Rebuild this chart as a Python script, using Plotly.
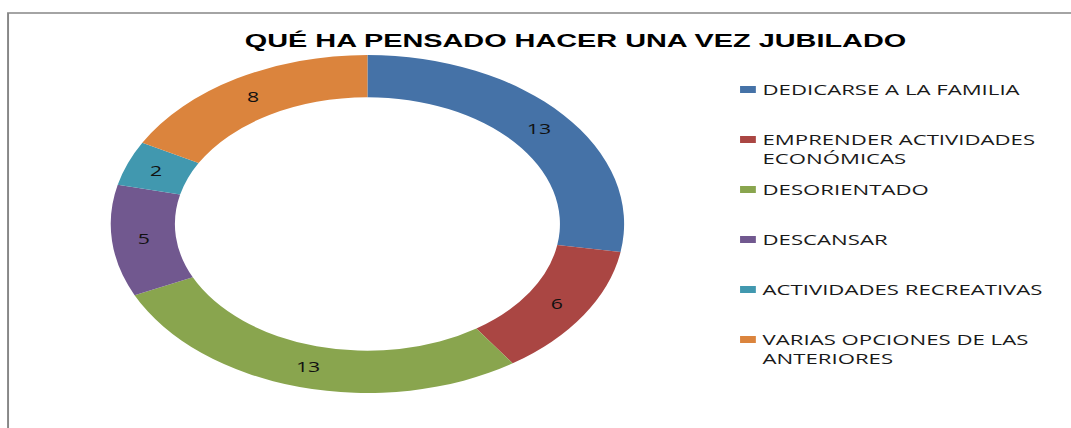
import plotly.graph_objects as go

# ---- data ----
labels = [
    "DEDICARSE A LA FAMILIA",
    "EMPRENDER ACTIVIDADES<br>ECONÓMICAS",
    "DESORIENTADO",
    "DESCANSAR",
    "ACTIVIDADES RECREATIVAS",
    "VARIAS OPCIONES DE LAS<br>ANTERIORES",
]
values = [13, 6, 13, 5, 2, 8]
colors = ["#4572A7", "#AA4643", "#89A54E", "#71588F", "#4198AF", "#DB843D"]
title_text = "QUÉ HA PENSADO HACER UNA VEZ JUBILADO"

# ---- layout constants ----
SX = 1.519          # horizontal stretch of the original picture
W, H = 705, 428     # unstretched figure size (705 * 1.519 ~ 1071)
LEG_Y0, LEG_STEP = 89.5, 50

fig = go.Figure(
    go.Pie(
        labels=labels,
        values=values,
        hole=0.75,
        sort=False,
        direction="clockwise",
        rotation=0,
        marker=dict(colors=colors, line=dict(width=0)),
        textinfo="value",
        textposition="inside",
        insidetextorientation="horizontal",
        textfont=dict(family="Open Sans", size=14, color="#111111"),
        domain=dict(x=[0.1034, 0.5828], y=[0.0818, 0.8715]),
        hoverinfo="skip",
    )
)

fig.update_layout(
    width=W,
    height=H,
    margin=dict(l=0, r=0, t=0, b=0),
    paper_bgcolor="white",
    plot_bgcolor="white",
    title=dict(
        text="<b>" + title_text + "</b>",
        x=0.5374,
        xanchor="center",
        y=1 - 40 / H,
        yanchor="middle",
        font=dict(family="Liberation Sans", size=19, color="#000000"),
    ),
    showlegend=True,
    legend=dict(
        x=462 / W,
        xanchor="left",
        y=1 - 75 / H,
        yanchor="top",
        valign="top",
        font=dict(family="Open Sans", size=14.6, color="#1a1a1a"),
        bgcolor="rgba(0,0,0,0)",
        borderwidth=0,
    ),
    shapes=[
        dict(
            type="rect",
            xref="paper",
            yref="paper",
            x0=5.3 / W,
            x1=1.05,
            y0=-0.05,
            y1=1 - 13 / H,
            line=dict(color="#878787", width=1.3),
            fillcolor="rgba(0,0,0,0)",
            layer="below",
        )
    ],
)

post = """
var gd = document.getElementById('{plot_id}');
document.body.style.margin = '0';
gd.style.transformOrigin = '0 0';
gd.style.transform = 'scaleX(__SX__)';
var sb = gd.querySelector('.legend .scrollbox');
if (sb) { sb.removeAttribute('clip-path'); }
var items = gd.querySelectorAll('.legend .traces');
items.forEach(function(g, i) {
  var p = g.querySelector('.legendpie');
  if (!p) { return; }
  p.setAttribute('d', 'M15.6,3.5H5.2V-3.5H15.6Z');
  var r = p.getBoundingClientRect();
  var cy = (r.top + r.bottom) / 2;
  var want = __Y0__ + i * __STEP__;
  var t = g.getAttribute('transform') || '';
  var m = /translate\\(\\s*([-\\d.e]+)[ ,]+([-\\d.e]+)\\s*\\)/.exec(t);
  if (m) {
    g.setAttribute('transform', 'translate(' + m[1] + ',' + (parseFloat(m[2]) + want - cy) + ')');
  }
});
""".replace("__SX__", str(SX)).replace("__Y0__", str(LEG_Y0)).replace("__STEP__", str(LEG_STEP))

fig.write_html("out.html", config={"staticPlot": True, "responsive": False}, post_script=post)
